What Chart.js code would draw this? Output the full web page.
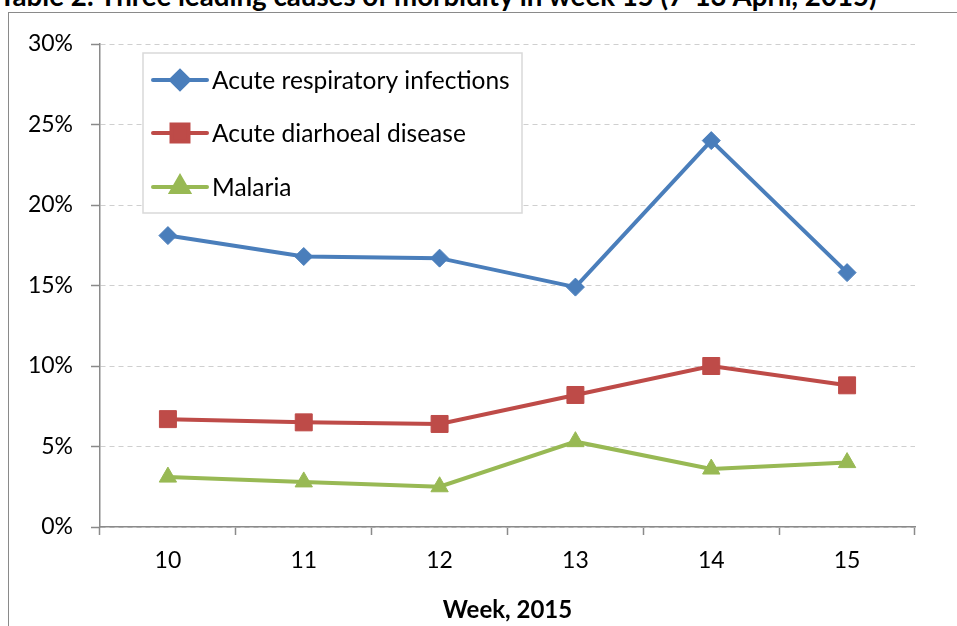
<!DOCTYPE html>
<html>
<head>
<meta charset="utf-8">
<script src="https://cdn.jsdelivr.net/npm/chart.js@4"></script>
<style>
  html, body { margin: 0; padding: 0; overflow: hidden; background: #fff; }
  body { width: 957px; height: 626px; position: relative; }
  #title {
    position: absolute; left: -1px; top: -18px;
    font: bold 27.7px/27px Lato, "Liberation Sans", sans-serif;
    white-space: nowrap; color: #000;
  }
  #frame {
    position: absolute; left: 8px; top: 12px; width: 1000px; height: 700px;
    border: 1.5px solid #8a8a8a; box-sizing: border-box;
  }
  #chartBox { position: absolute; left: 0; top: 0; width: 957px; height: 626px; }
</style>
</head>
<body>
<div id="title">Table 2: Three leading causes of morbidity in week 15 (7-13 April, 2015)</div>
<div id="frame"></div>
<div id="chartBox"><canvas id="morbidityChart"></canvas></div>
<script>
// Data (percent of consultations)
const weeks = ['10', '11', '12', '13', '14', '15'];
const respiratory = [18.1, 16.8, 16.7, 14.9, 24.0, 15.8];
const diarrhoeal = [6.7, 6.5, 6.4, 8.2, 10.0, 8.8];
const malaria = [3.1, 2.8, 2.5, 5.3, 3.6, 4.0];
const seriesNames = ['Acute respiratory infections', 'Acute diarhoeal disease', 'Malaria'];
const yTicks = [0, 5, 10, 15, 20, 25, 30];

const FONT = 'Lato, "Liberation Sans", sans-serif';

// Legend drawn inside the plot, like the Excel original
const boxLegend = {
    id: 'boxLegend',
    afterDraw(chart) {
        const ctx = chart.ctx;
        ctx.save();
        ctx.fillStyle = '#ffffff';
        ctx.fillRect(143, 53, 379, 160);
        ctx.strokeStyle = '#d9d9d9';
        ctx.lineWidth = 1.5;
        ctx.strokeRect(143, 53, 379, 160);
        const rows = [80, 133, 187];
        chart.data.datasets.forEach(function(ds, i) {
            const y = rows[i];
            ctx.strokeStyle = ds.borderColor;
            ctx.lineWidth = 4;
            ctx.lineCap = 'round';
            ctx.beginPath();
            ctx.moveTo(153, y);
            ctx.lineTo(207, y);
            ctx.stroke();
            ctx.fillStyle = ds.backgroundColor;
            ctx.strokeStyle = ds.borderColor;
            Chart.helpers.drawPoint(ctx, {
                pointStyle: ds.pointStyle,
                radius: ds.pointRadius,
                borderWidth: 1
            }, 180, y);
            ctx.fillStyle = '#000';
            ctx.font = '24.5px ' + FONT;
            ctx.textBaseline = 'middle';
            ctx.textAlign = 'left';
            ctx.fillText(ds.label, 212, y + 1);
        });
        ctx.restore();
    }
};

const ctx = document.getElementById('morbidityChart').getContext('2d');
new Chart(ctx, {
    type: 'line',
    data: {
        labels: weeks,
        datasets: [{
            label: seriesNames[0],
            data: respiratory,
            borderColor: '#4a7ebb',
            backgroundColor: '#4a7ebb',
            borderWidth: 4,
            pointStyle: 'rectRot',
            pointRadius: 9,
            pointBorderWidth: 1
        }, {
            label: seriesNames[1],
            data: diarrhoeal,
            borderColor: '#be4b48',
            backgroundColor: '#be4b48',
            borderWidth: 4,
            pointStyle: 'rect',
            pointRadius: 12,
            pointBorderWidth: 1
        }, {
            label: seriesNames[2],
            data: malaria,
            borderColor: '#98b954',
            backgroundColor: '#98b954',
            borderWidth: 4,
            pointStyle: 'triangle',
            pointRadius: 10,
            pointBorderWidth: 1
        }]
    },
    options: {
        responsive: true,
        maintainAspectRatio: false,
        animation: false,
        layout: { padding: { left: 0, right: 42, top: 44, bottom: 0 } },
        plugins: {
            legend: { display: false },
            tooltip: { enabled: false }
        },
        scales: {
            x: {
                offset: true,
                grid: {
                    offset: true,
                    drawOnChartArea: false,
                    drawTicks: true,
                    tickLength: 8,
                    tickColor: '#8a8a8a',
                    tickWidth: 1.5
                },
                border: { color: '#8a8a8a', width: 1.5 },
                ticks: { color: '#000', font: { family: FONT, size: 23 }, padding: 12, maxRotation: 0 },
                title: {
                    display: true,
                    text: 'Week, 2015',
                    color: '#000',
                    font: { family: FONT, size: 24, weight: 'bold' },
                    padding: { top: 1, bottom: 1 }
                },
                afterFit(scale) { scale.height = 99; }
            },
            y: {
                min: 0,
                max: 30,
                afterBuildTicks(scale) {
                    scale.ticks = yTicks.map(function(v) { return { value: v }; });
                },
                grid: {
                    color: '#cfcfcf',
                    lineWidth: 1,
                    tickLength: 9,
                    tickColor: '#8a8a8a',
                    tickWidth: 1.5
                },
                border: { color: '#8a8a8a', width: 1.5, dash: [5, 4] },
                ticks: {
                    color: '#000',
                    font: { family: FONT, size: 23 },
                    padding: 18,
                    callback: function(v) { return v + '%'; }
                },
                afterFit(scale) { scale.width = 100; }
            }
        }
    },
    plugins: [boxLegend]
});
</script>
</body>
</html>
